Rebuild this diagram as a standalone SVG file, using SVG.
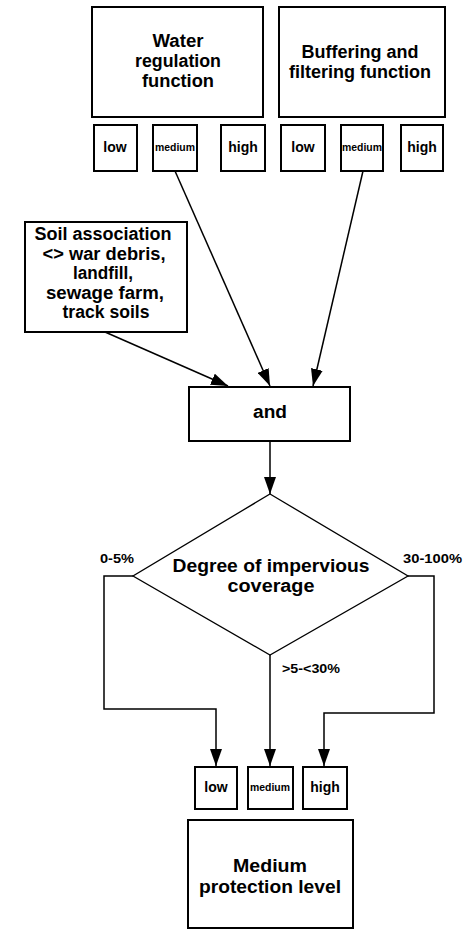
<svg xmlns="http://www.w3.org/2000/svg" width="470" height="939" viewBox="0 0 470 939">
<style>
  .box { fill: #fff; stroke: #000; stroke-width: 2; }
  .dia { fill: #fff; stroke: #000; stroke-width: 1.3; }
  .t { font-family: "Liberation Sans", Arial, sans-serif; font-weight: bold; fill: #000; text-anchor: middle; }
  .big { font-size: 18px; }
  .sm { font-size: 14px; }
  .med { font-size: 11px; }
  .pct { font-size: 12px; text-anchor: start; }
  .con { fill: none; stroke: #000; stroke-width: 1.5; }
</style>
<defs>
  <marker id="ah" markerUnits="userSpaceOnUse" markerWidth="18" markerHeight="12" refX="17" refY="6" orient="auto">
    <path d="M0,0 L17,6 L0,12 z" fill="#000"/>
  </marker>
</defs>
<rect width="470" height="939" fill="#fff"/>

<g id="water">
  <rect class="box" x="92" y="7" width="171" height="110"/>
  <text class="t big" x="178" y="47" textLength="51" lengthAdjust="spacingAndGlyphs">Water</text>
  <text class="t big" x="178" y="67" textLength="86" lengthAdjust="spacingAndGlyphs">regulation</text>
  <text class="t big" x="178" y="87" textLength="72" lengthAdjust="spacingAndGlyphs">function</text>
</g>
<g id="buffering">
  <rect class="box" x="279" y="7" width="166" height="110"/>
  <text class="t big" x="360" y="58" textLength="117" lengthAdjust="spacingAndGlyphs">Buffering and</text>
  <text class="t big" x="360" y="78" textLength="142" lengthAdjust="spacingAndGlyphs">filtering function</text>
</g>
<g id="w-low"><rect class="box" x="94" y="125" width="43" height="46"/><text class="t sm" x="115" y="152">low</text></g>
<g id="w-medium"><rect class="box" x="153" y="125" width="44" height="46"/><text class="t med" x="175" y="151" textLength="40" lengthAdjust="spacingAndGlyphs">medium</text></g>
<g id="w-high"><rect class="box" x="221" y="125" width="44" height="46"/><text class="t sm" x="243" y="152">high</text></g>
<g id="b-low"><rect class="box" x="281" y="125" width="44" height="46"/><text class="t sm" x="303" y="152">low</text></g>
<g id="b-medium"><rect class="box" x="341" y="125" width="42" height="46"/><text class="t med" x="362" y="151" textLength="40" lengthAdjust="spacingAndGlyphs">medium</text></g>
<g id="b-high"><rect class="box" x="401" y="125" width="42" height="46"/><text class="t sm" x="422" y="152">high</text></g>

<g id="soil">
  <rect class="box" x="25" y="222" width="162" height="110"/>
  <text class="t big" x="103" y="240" textLength="137" lengthAdjust="spacingAndGlyphs">Soil association</text>
  <text class="t big" x="104" y="260" textLength="123" lengthAdjust="spacingAndGlyphs">&lt;&gt; war debris,</text>
  <text class="t big" x="103" y="279" textLength="60" lengthAdjust="spacingAndGlyphs">landfill,</text>
  <text class="t big" x="105" y="299" textLength="118" lengthAdjust="spacingAndGlyphs">sewage farm,</text>
  <text class="t big" x="106" y="318" textLength="87" lengthAdjust="spacingAndGlyphs">track soils</text>
</g>

<g id="and">
  <rect class="box" x="189" y="387" width="161" height="54"/>
  <text class="t big" x="270" y="418" textLength="34" lengthAdjust="spacingAndGlyphs">and</text>
</g>

<g id="decision">
  <polygon class="dia" points="270,494 408,576 270,655 133,576"/>
  <text class="t big" x="271" y="572" textLength="197" lengthAdjust="spacingAndGlyphs">Degree of impervious</text>
  <text class="t big" x="271" y="592" textLength="87" lengthAdjust="spacingAndGlyphs">coverage</text>
</g>

<g id="r-low"><rect class="box" x="195" y="767" width="42" height="42"/><text class="t sm" x="216" y="792">low</text></g>
<g id="r-medium"><rect class="box" x="248" y="767" width="45" height="42"/><text class="t med" x="270" y="791" textLength="40" lengthAdjust="spacingAndGlyphs">medium</text></g>
<g id="r-high"><rect class="box" x="303" y="767" width="44" height="42"/><text class="t sm" x="325" y="792">high</text></g>

<g id="result">
  <rect class="box" x="188" y="820" width="165" height="108"/>
  <text class="t big" x="270" y="872" textLength="74" lengthAdjust="spacingAndGlyphs">Medium</text>
  <text class="t big" x="270" y="893" textLength="142" lengthAdjust="spacingAndGlyphs">protection level</text>
</g>

<g id="connectors">
  <line class="con" x1="105" y1="332" x2="228" y2="386" marker-end="url(#ah)"/>
  <line class="con" x1="175" y1="171" x2="270" y2="386" marker-end="url(#ah)"/>
  <line class="con" x1="363" y1="171" x2="313" y2="386" marker-end="url(#ah)"/>
  <line class="con" x1="270" y1="441" x2="270" y2="494" marker-end="url(#ah)"/>
  <polyline class="con" points="133,576 104,576 104,709 216,709 216,766" marker-end="url(#ah)"/>
  <line class="con" x1="270" y1="655" x2="270" y2="766" marker-end="url(#ah)"/>
  <polyline class="con" points="408,576 434,576 434,713 324,713 324,766" marker-end="url(#ah)"/>
  <text class="t pct" x="100" y="563" textLength="34" lengthAdjust="spacingAndGlyphs">0-5%</text>
  <text class="t pct" x="403" y="563" textLength="59" lengthAdjust="spacingAndGlyphs">30-100%</text>
  <text class="t pct" x="282" y="673" textLength="58" lengthAdjust="spacingAndGlyphs">&gt;5-&lt;30%</text>
</g>
</svg>
